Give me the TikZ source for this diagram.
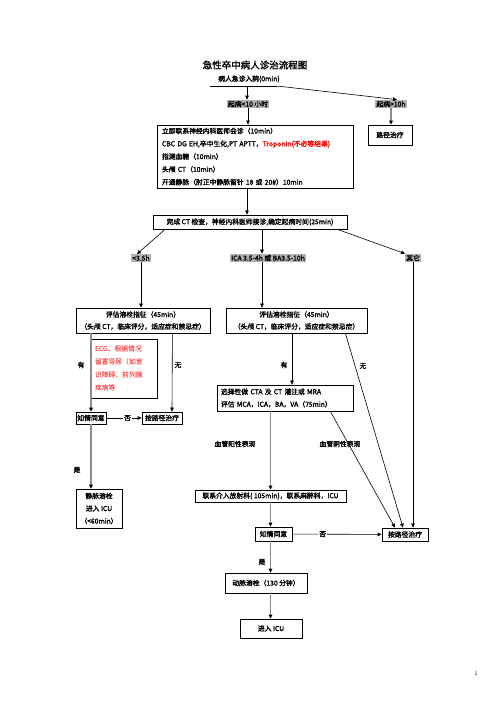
\documentclass[tikz,border=0pt]{standalone}
\usepackage{fontspec}
\setmainfont{Noto Sans CJK SC}[AutoFakeBold=2]
\usetikzlibrary{arrows.meta}

\begin{document}
\begin{tikzpicture}[
            x=1pt, y=-1pt,
            font=\fontsize{6.8}{8}\selectfont\bfseries,
            box/.style={draw=black, line width=0.8pt, inner sep=1pt, align=center},
            tag/.style={fill=black!30, inner sep=1pt},
            lbl/.style={inner sep=1pt},
            arr/.style={-{Triangle[length=4pt,width=3.6pt]}, line width=0.6pt},
            garr/.style={-{Triangle[length=4pt,width=3.6pt,color=black]}, draw=black!45, line width=1.8pt}
        ]
        \useasboundingbox (0,0) rectangle (496,702);

        % top
        \node[font=\fontsize{9.5}{11}\selectfont\bfseries] (title) at (255,65) {急性卒中病人诊治流程图};
        \node[lbl] (arrive) at (249,79) {病人急诊入院(0min)};
        \coordinate (lineL) at (210,86);
        \coordinate (split) at (277,86);
        \coordinate (drop) at (247,86);
        \node[tag] (lt10) at (248,104) {起病<10 小时};
        \node[tag] (gt10) at (391,104) {起病>10h};
        \node[box, minimum width=44pt, minimum height=20pt] (path1) at (390,135) {路径治疗};
        \node[box, minimum width=196pt, minimum height=63pt, text width=186pt, align=left,
              font=\fontsize{6.8}{12.8}\selectfont\bfseries] (orders) at (255,156.5)
            {立即联系神经内科医师会诊（10min）\\
             CBC DG EH,卒中生化,PT APTT，\textcolor{red}{Troponin(不必等结果)}\\
             指测血糖（10min）\\
             头颅 CT（10min）\\
             开通静脉（肘正中静脉留针 18 或 20\#）10min};
        \node[box, minimum width=194pt, minimum height=14pt] (ctdone) at (250,222)
            {完成 CT 检查，神经内科医师接诊,确定起病时间(25min)};

        \draw (lineL) -- (split);
        \draw[arr] (split) -- ([xshift=6pt]gt10.north);
        \draw[arr] (drop) -- (drop |- lt10.north);
        \draw[garr] (gt10.south) -- (gt10.south |- path1.north);
        \draw[arr] (lt10.south) -- (lt10.south |- orders.north);
        \draw[arr] (orders.south -| drop) -- (ctdone.north -| drop);

        % time windows
        \node[tag] (lt35) at (141,258) {<3.5h};
        \node[tag] (ica) at (268,258) {ICA 3.5-4h 或 BA3.5-10h};
        \node[tag] (other) at (413,258) {其它};
        \draw[arr] ([xshift=-85pt]ctdone.south) -- ([xshift=-4pt]lt35.north);
        \draw[arr] ([xshift=12pt]ctdone.south) -- ([xshift=-6pt]ica.north);
        \draw[arr] ([xshift=-10pt]ctdone.south east) -- ([xshift=-8pt]other.north);

        % left column
        \node[box, minimum width=134pt, minimum height=25pt,
              font=\fontsize{6.8}{12}\selectfont\bfseries] (evalL) at (143,320.5)
            {评估溶栓指征（45min）\\（头颅 CT，临床评分，适应症和禁忌症）};
        \node[box, minimum width=66pt, minimum height=59pt, text width=58pt, align=left, text=red,
              font=\fontsize{6.8}{12.8}\selectfont\mdseries] (ecg) at (124,368.5)
            {ECG、根据情况\\留置导尿（如意\\识障碍、前列腺\\疾病等};
        \node[box, minimum width=30pt, minimum height=12pt] (consentL) at (91,418) {知情同意};
        \node[box, minimum width=40pt, minimum height=12pt] (pathL) at (162,418) {按路径治疗};
        \node[box, minimum width=46pt, minimum height=39pt,
              font=\fontsize{6.8}{12.5}\selectfont\bfseries] (ivt) at (99,508.5)
            {静脉溶栓\\进入 ICU\\（<60min）};
        \node[lbl] (yesL) at (81,365) {有};
        \node[lbl] (noL) at (178,365) {无};
        \node[lbl] (shiL) at (77,470) {是};

        \draw[arr] (lt35.south) -- (lt35.south |- evalL.north);
        \draw[garr] (consentL.north |- evalL.south) -- (consentL.north);
        \draw[arr] ([xshift=-38pt]evalL.south east) -- ([xshift=10pt]pathL.north);
        \draw[arr] (consentL) -- node[lbl, fill=white, pos=0.6] {否} (pathL);
        \draw[garr] (consentL.south) -- (consentL.south |- ivt.north);

        % middle column
        \node[box, minimum width=141pt, minimum height=25pt,
              font=\fontsize{6.8}{12}\selectfont\bfseries] (evalM) at (296.5,320.5)
            {评估溶栓指征（45min）\\（头颅 CT，临床评分，适应症和禁忌症）};
        \node[box, minimum width=136pt, minimum height=26pt, text width=128pt, align=left,
              font=\fontsize{6.8}{12.5}\selectfont\bfseries] (CTA) at (285,398)
            {选择性做 CTA 及 CT 灌注或 MRA\\评估 MCA，ICA，BA，VA（75min）};
        \node[box, minimum width=151pt, minimum height=12pt] (contact) at (270.5,496)
            {联系介入放射科( 105min)，联系麻醉科，ICU};
        \node[box, minimum width=37pt, minimum height=14pt] (consentM) at (273.5,534) {知情同意};
        \node[box, minimum width=46pt, minimum height=13pt] (pathR) at (405,534.5) {按路径治疗};
        \node[box, minimum width=82pt, minimum height=20pt] (iat) at (266,583) {动脉溶栓（130 分钟）};
        \node[box, minimum width=62pt, minimum height=19pt] (icu) at (271,628.5) {进入 ICU};
        \node[lbl] (yesM) at (284,365) {有};
        \node[lbl] (noM) at (363,366) {无};
        \node[lbl] (pos) at (235,444) {血管阳性表现};
        \node[lbl] (neg) at (340,444) {血管阴性表现};
        \node[lbl] (shiM) at (262,562) {是};

        \draw[arr] ([xshift=-6pt]ica.south) -- ([xshift=-6pt]ica.south |- evalM.north);
        \draw[arr] ([xshift=-4.5pt]evalM.south) -- ([xshift=-4.5pt]evalM.south |- CTA.north);
        \draw[garr] (contact.north |- CTA.south) -- (contact.north);
        \draw[garr] (contact.south) -- (contact.south |- consentM.north);
        \draw[arr] (consentM) -- node[lbl, fill=white, pos=0.34] {否} (pathR);
        \draw[garr] (consentM.south -| contact.south) -- (iat.north -| contact.south);
        \draw[garr] (iat.south -| contact.south) -- (icu.north -| contact.south);

        % into the right path box
        \draw[arr] ([xshift=-23pt]CTA.south east) -- ([xshift=-10pt]pathR.north);
        \draw[arr] ([xshift=-22pt]evalM.south east) -- ([xshift=-2pt]pathR.north);
        \draw[arr] (other.south) -- (other.south |- pathR.north);

        \node[font=\fontsize{5}{6}\selectfont\mdseries] (page) at (476,674) {1};

    \end{tikzpicture}
\end{document}
